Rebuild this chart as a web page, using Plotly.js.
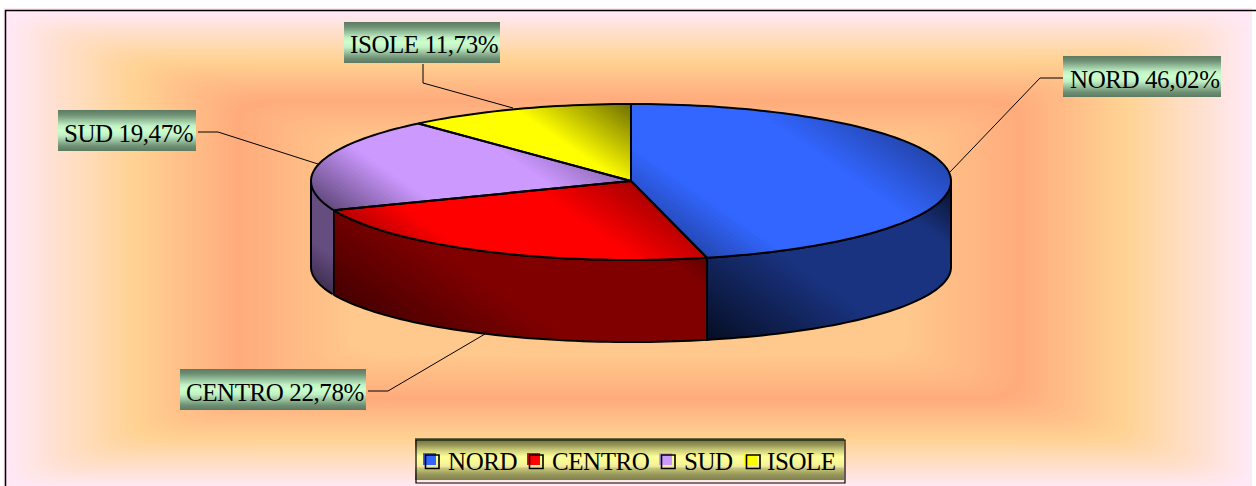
<!DOCTYPE html>
<html><head><meta charset="utf-8">
<script src="https://cdn.plot.ly/plotly-3.0.1.min.js"></script>
<style>html,body{margin:0;padding:0;background:#fff;overflow:hidden}#c{width:1256px;height:486px}
.annotation-text{letter-spacing:-.42px;-webkit-text-stroke:.2px #000}</style>
</head><body><div id="c"></div>
<script>
// ---- data ----
const categories = ['NORD', 'CENTRO', 'SUD', 'ISOLE'];
const values = [46.02, 22.78, 19.47, 11.73];
const valueLabels = ['46,02%', '22,78%', '19,47%', '11,73%'];

// ---- styles ----
const bright = [[51,102,255],[255,0,0],[204,153,255],[255,255,0]];
const darkTop = [[22,44,110],[110,0,0],[80,58,104],[110,110,0]];
const wallBright = [[26,51,128],[128,0,0],[102,77,128],[128,128,0]];
const wallDark = [[6,14,36],[48,0,0],[50,36,66],[50,50,0]];
const FONT = '"Liberation Serif","Times New Roman",serif';

// ---- pie geometry (pixel-scaled axes) ----
const G = {cx:631, cy:181, rx:320, ryBack:77, ryFront:79, bcy:267, bry:75, view:0.6};
const rad = d => d*Math.PI/180;
const topPt = a => {const c=Math.cos(rad(a));return [G.cx+G.rx*Math.sin(rad(a)), G.cy-(c<0?G.ryFront:G.ryBack)*c];};
const botPt = a => [G.cx+G.rx*Math.sin(rad(a)), G.bcy-G.bry*Math.cos(rad(a))];
function arc(a0,a1,fn){const n=Math.max(2,Math.ceil(Math.abs(a1-a0)/1.5));const p=[];
  for(let i=0;i<=n;i++)p.push(fn(a0+(a1-a0)*i/n));return p;}

const traces=[];
function clipHalf(poly,f,t0){ // keep the part of poly with f(p)>=t0
  const out=[];
  for(let i=0;i<poly.length;i++){
    const a=poly[i],b=poly[(i+1)%poly.length],fa=f(a)-t0,fb=f(b)-t0;
    if(fa>=0)out.push(a);
    if((fa>=0)!==(fb>=0)){const s=fa/(fa-fb);out.push([a[0]+(b[0]-a[0])*s,a[1]+(b[1]-a[1])*s]);}
  }
  return out;
}
const mix=(a,b,t)=>a.map((v,i)=>Math.round(v+(b[i]-v)*t));
function diagFill(poly,cBright,cDark,lo,hi){
  const xs=poly.map(p=>p[0]),ys=poly.map(p=>p[1]);
  const x0=Math.min(...xs),x1=Math.max(...xs),y0=Math.min(...ys),y1=Math.max(...ys);
  const S=.69, D=(x1-x0)*S+(y1-y0);
  const f=p=>((p[0]-x0)*S+(y1-p[1]))/D;
  const N=80;
  for(let i=0;i<N;i++){
    const t=i/N, tc=(i+.5)/N;
    const k=tc<lo?1-tc/lo:tc>hi?(tc-hi)/(1-hi):0;
    if(i>0 && tc>lo && tc-1/N>lo && tc<hi) continue; // flat middle, already painted
    const pl=i===0?poly:clipHalf(poly,f,t);
    if(pl.length<3)continue;
    const c=mix(cBright,cDark,k);
    traces.push({type:'scatter',mode:'lines',x:pl.map(p=>p[0]).concat(pl[0][0]),y:pl.map(p=>p[1]).concat(pl[0][1]),
      fill:'toself',fillcolor:`rgb(${c})`,line:{width:0,color:`rgb(${c})`},hoverinfo:'skip',showlegend:false});
  }
}
function outline(pts,w,closed){
  const p=closed?pts.concat([pts[0]]):pts;
  traces.push({type:'scatter',mode:'lines',x:p.map(q=>q[0]),y:p.map(q=>q[1]),
    line:{color:'#000',width:w,simplify:false},hoverinfo:'skip',showlegend:false});
}

// slice angles from the values, clockwise from the top
const total=values.reduce((a,b)=>a+b,0);
const angles=[0];values.forEach((v,i)=>angles.push(angles[i]+v/total*360));
const seen=angles.map((a,i)=>(i===0||i===values.length)?a:a+G.view);

// side walls: only the front half (90..270 degrees) is visible
[0,1,2].forEach(i=>{
  const a0=Math.max(seen[i],90),a1=Math.min(seen[i+1],270);
  const gap=i===2?0.55:0;
  const poly=arc(a0+gap,a1,topPt).concat(arc(a1,a0+gap,botPt));
  diagFill(poly,wallBright[i],wallDark[i],.42,.8);
  if(i===2){ outline([topPt(a1)].concat(arc(a1,a0+gap,botPt)),2,false); }
  else outline(poly,2,true);
});
// top faces
categories.forEach((c,i)=>{
  const poly=[[G.cx,G.cy]].concat(arc(seen[i],seen[i+1],topPt));
  diagFill(poly,bright[i],darkTop[i],.3,.62);
});
categories.forEach((c,i)=>{
  const poly=[[G.cx,G.cy]].concat(arc(seen[i],seen[i+1],topPt));
  outline(poly,2,true);
});

// gradient boxes for labels and legend
function gradBox(x0,y0,x1,y1,scale){
  traces.push({type:'scatter',mode:'lines',x:[x0,x1,x1,x0,x0],y:[y0,y0,y1,y1,y0],fill:'toself',
    line:{width:0},hoverinfo:'skip',showlegend:false,
    fillgradient:{type:'vertical',start:y0,stop:y1,colorscale:scale}});
}
const labelScale=[[0,'#5c7a62'],[.12,'#6f9074'],[.25,'#96c09c'],[.38,'#c0f0c4'],[.5,'#ccffcc'],[.62,'#c0f0c4'],[.75,'#96c09c'],[.88,'#6f9074'],[1,'#5c7a62']];
const legendScale=[[0,'#66663c'],[.15,'#8f8f55'],[.3,'#d0d07c'],[.45,'#ffff99'],[.62,'#f5f595'],[.68,'#f0e6a0'],[.72,'#c8c878'],[.88,'#95955a'],[1,'#80804c']];

const labelBoxes=[[1063,56,1221,97,1070,79],[180,369,366,410,186,392],[58,110,196,151,64,133],[344,22,500,63,350,44]];
labelBoxes.forEach(b=>gradBox(b[0],b[1],b[2],b[3],labelScale));
gradBox(415,438,844,480,legendScale);

// ---- background: nested rounded rectangles form a box gradient ----
const shapes=[];
const stops=[[0,[255,233,246]],[.2,[255,211,148]],[.37,[255,171,124]],[.55,[255,200,140]],[1,[255,205,145]]];
function bgCol(t){for(let i=1;i<stops.length;i++){if(t<=stops[i][0]){const s=stops[i-1],e=stops[i];return mix(s[1],e[1],(t-s[0])/(e[0]-s[0]));}}return stops[4][1];}
const B={x0:6,y0:11,x1:1252,y1:488};
shapes.push({type:'rect',layer:'below',x0:3.5,y0:8,x1:1252,y1:490,line:{width:0},fillcolor:'rgb(255,233,246)'});
const NB=160;
for(let i=0;i<NB;i++){const t=i/NB;
  const hw=(B.x1-B.x0)/2*t,hh=(B.y1-B.y0)/2*t;
  const a=B.x0+hw,b=B.x1-hw,c=B.y0+hh,d=B.y1-hh;
  const rx=Math.min(45,(b-a)/2),ry=Math.min(18,(d-c)/2);
  shapes.push({type:'path',layer:'below',line:{width:0},fillcolor:`rgb(${bgCol(t)})`,
    path:`M${a+rx},${c} L${b-rx},${c} Q${b},${c} ${b},${c+ry} L${b},${d-ry} Q${b},${d} ${b-rx},${d} L${a+rx},${d} Q${a},${d} ${a},${d-ry} L${a},${c+ry} Q${a},${c} ${a+rx},${c} Z`});
}
// frame
const ln=(x0,y0,x1,y1,w)=>({type:'line',x0,y0,x1,y1,line:{color:'#000',width:w}});
shapes.push(ln(5,10.5,1256,10.5,1.5), ln(5.5,10,5.5,486,1.5));
// leader lines
[[[1063,78],[1040,78],[950,172]],[[198,132],[218,132],[318,164]],[[368,391],[388,391],[485,334]],[[423,64],[423,83],[513,108]]]
 .forEach(L=>{for(let i=0;i<2;i++)shapes.push(ln(L[i][0],L[i][1],L[i+1][0],L[i+1][1],1));});
// legend frame and keys
shapes.push({type:'rect',x0:416,y0:440,x1:845,y1:483,line:{color:'#000',width:1.2}});
const keyX=[423,527,659,744];
keyX.forEach((x,i)=>{
  shapes.push({type:'rect',x0:x,y0:453,x1:x+13,y1:465,line:{width:0},fillcolor:`rgb(${bright[i]})`});
  shapes.push({type:'rect',x0:x+2.5,y0:455,x1:x+16,y1:468.5,line:{color:'#000',width:1.6}});
});

// ---- text ----
const annotations=[];
categories.forEach((c,i)=>{
  annotations.push({x:labelBoxes[i][4],y:labelBoxes[i][5],xref:'x',yref:'y',xanchor:'left',yanchor:'middle',showarrow:false,
    text:c+' '+valueLabels[i],font:{family:FONT,size:25,color:'#000'},borderpad:0,borderwidth:0});
  annotations.push({x:[448,552,684,767][i],y:461,xref:'x',yref:'y',xanchor:'left',yanchor:'middle',showarrow:false,
    text:c,font:{family:FONT,size:25,color:'#000'},borderpad:0,borderwidth:0});
});

Plotly.newPlot('c',traces,{
  width:1256,height:486,margin:{l:0,r:0,t:0,b:0},paper_bgcolor:'#fff',plot_bgcolor:'rgba(0,0,0,0)',showlegend:false,
  xaxis:{range:[0,1256],visible:false,fixedrange:true},
  yaxis:{range:[486,0],visible:false,fixedrange:true},
  shapes,annotations
},{staticPlot:true,displayModeBar:false});
</script></body></html>
